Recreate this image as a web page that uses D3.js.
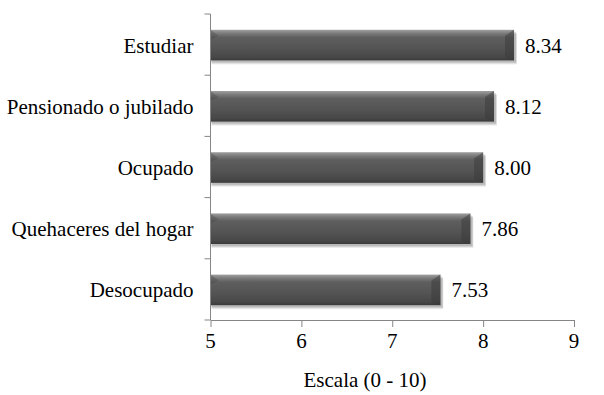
<!DOCTYPE html>
<html><head><meta charset="utf-8">
<script src="https://cdn.jsdelivr.net/npm/d3@7"></script>
<style>
@font-face{font-family:"ChartSerif";src:local("Liberation Serif"),local("LiberationSerif"),local("Times New Roman"),local("Tinos");}
body{margin:0;background:#fff}
</style>
</head><body>
<script>
const categories = ["Estudiar","Pensionado o jubilado","Ocupado","Quehaceres del hogar","Desocupado"];
const values = [8.34, 8.12, 8.00, 7.86, 7.53];
const xTicks = [5,6,7,8,9];
const xTitle = "Escala (0 - 10)";

const W=604,H=395;
const FF='"Liberation Serif", "ChartSerif", "Times New Roman", serif';
const FS=21;

function draw(){
const svg=d3.select("body").append("svg").attr("width",W).attr("height",H).style("font-family",FF);
const x=d3.scaleLinear().domain([5,9]).range([210.5,574]);
const y=d3.scaleBand().domain(categories).range([14,320]).paddingInner(0.5).paddingOuter(0.25);

const defs=svg.append("defs");
const g=defs.append("linearGradient").attr("id","bar").attr("x1",0).attr("y1",0).attr("x2",0).attr("y2",1);
[[0,"#a0a0a0"],[0.12,"#7a7a7a"],[0.25,"#5e5e5e"],[0.6,"#545454"],[0.9,"#474747"],[1,"#3a3a3a"]].forEach(s=>g.append("stop").attr("offset",s[0]).attr("stop-color",s[1]));

const bars=svg.append("g").selectAll("g").data(categories).join("g");
[[4,0.08],[3,0.1],[2,0.12]].forEach(([o,a])=>{
  bars.append("rect").attr("x",x(5)+1).attr("y",d=>y(d)+0.5+o).attr("width",(d,i)=>x(values[i])-x(5)+o/2).attr("height",y.bandwidth())
   .attr("fill","#000").attr("opacity",a);
});
bars.append("rect").attr("x",x(5)).attr("y",d=>y(d)+0.5).attr("width",(d,i)=>x(values[i])-x(5)).attr("height",y.bandwidth())
  .attr("fill","url(#bar)");
bars.append("path").attr("d",(d,i)=>{const x1=x(values[i]),t=y(d)+0.5,b=t+y.bandwidth();
  return `M${x1},${t}L${x1-9},${t+6}L${x1-9},${b-3}L${x1},${b}Z`;}).attr("fill","#3a3a3a").attr("opacity",0.5);
bars.append("path").attr("d",(d,i)=>{const x0=x(5),t=y(d)+0.5;
  return `M${x0},${t}L${x0+8},${t+6}L${x0},${t+10}Z`;}).attr("fill","#444").attr("opacity",0.35);

svg.append("line").attr("x1",x(5)).attr("x2",x(5)).attr("y1",14).attr("y2",320).attr("stroke","#868686");
const bnd=d3.range(categories.length+1).map(i=>14+i*(306/categories.length));
svg.selectAll(".yt").data(bnd).join("line").attr("class","yt").attr("x1",x(5)-6).attr("x2",x(5)).attr("y1",d=>d).attr("y2",d=>d).attr("stroke","#868686");

const xa=svg.append("g").attr("transform","translate(0,320)")
  .call(d3.axisBottom(x).tickValues(xTicks).tickSize(7).tickSizeOuter(0).tickFormat(""));
xa.select(".domain").attr("stroke","#868686");
xa.selectAll("line").attr("stroke","#868686");

svg.selectAll(".vl").data(categories).join("text").attr("class","vl").attr("x",(d,i)=>x(values[i])+11).attr("y",d=>y(d)+y.bandwidth()/2+8)
  .attr("font-size",FS).style("font-family",FF).attr("fill","#000").text((d,i)=>values[i].toFixed(2));
svg.selectAll(".cl").data(categories).join("text").attr("class","cl").attr("x",x(5)-17).attr("y",d=>y(d)+y.bandwidth()/2+8)
  .attr("text-anchor","end").attr("font-size",FS).style("font-family",FF).attr("fill","#000").text(d=>d);
svg.selectAll(".xl").data(xTicks).join("text").attr("class","xl").attr("x",d=>x(d)).attr("y",348)
  .attr("text-anchor","middle").attr("font-size",FS).style("font-family",FF).attr("fill","#000").text(d=>d);
svg.append("text").attr("x",365).attr("y",387).attr("text-anchor","middle").attr("font-size",FS).style("font-family",FF).attr("fill","#000").text(xTitle);
}
draw();
</script>
</body></html>
